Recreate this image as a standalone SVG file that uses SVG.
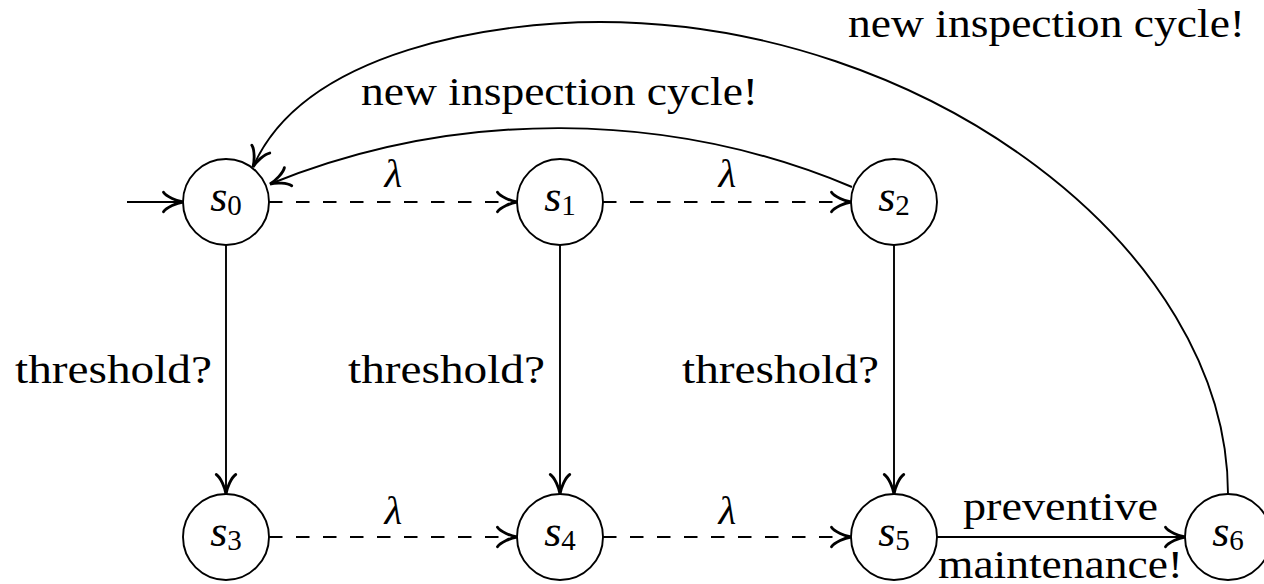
<svg xmlns="http://www.w3.org/2000/svg" width="1264" height="584" viewBox="0 0 1264 584">
<defs>
<marker id="arr" markerUnits="userSpaceOnUse" markerWidth="30" markerHeight="30" viewBox="-15 -10 17 20" refX="0" refY="0" orient="auto" overflow="visible">
<path d="M-13,-6.5 C-11,-3.5 -4,-0.6 0,0 C-4,0.6 -11,3.5 -13,6.5" fill="none" stroke="#000" stroke-width="1.9" stroke-linecap="round" stroke-dasharray="none"/>
</marker>
<style>
.node circle{fill:#fff;stroke:#000;stroke-width:1.9}
.lbl{font-family:"Liberation Serif","Times New Roman",serif;font-size:41px;fill:#000}
.nl{font-family:"Liberation Serif","Times New Roman",serif;font-size:44px;fill:#000}
.it{font-style:italic}
.sub{font-size:29px;font-style:normal}
.e{fill:none;stroke:#000;stroke-width:1.9;marker-end:url(#arr)}
.d{stroke-dasharray:13.5 13.5}
</style>
</defs>
<g id="connectors">
<path class="e" d="M127,202 H183"/>
<path class="e d" d="M269,202 H517"/>
<path class="e d" d="M603,202 H851"/>
<path class="e d" d="M269,537 H517"/>
<path class="e d" d="M603,537 H851"/>
<path class="e" d="M226,245 V494"/>
<path class="e" d="M560,245 V494"/>
<path class="e" d="M894,245 V494"/>
<path class="e" d="M937,537 H1185"/>
<path class="e" d="M852,187 C667,109 455,109 270,184"/>
<path class="e" d="M1228,494 C1228,248.6 926,22 600,22 C500,22 305,48 253,167"/>
<text class="lbl it" x="393.5" y="187" text-anchor="middle" font-size="42">λ</text>
<text class="lbl it" x="727.5" y="187" text-anchor="middle" font-size="42">λ</text>
<text class="lbl it" x="393.5" y="524" text-anchor="middle" font-size="42">λ</text>
<text class="lbl it" x="727.5" y="524" text-anchor="middle" font-size="42">λ</text>
<text class="lbl" x="15" y="383" textLength="197" lengthAdjust="spacingAndGlyphs">threshold?</text>
<text class="lbl" x="348" y="383" textLength="197" lengthAdjust="spacingAndGlyphs">threshold?</text>
<text class="lbl" x="682" y="383" textLength="197" lengthAdjust="spacingAndGlyphs">threshold?</text>
<text class="lbl" x="361" y="105" textLength="397" lengthAdjust="spacingAndGlyphs">new inspection cycle!</text>
<text class="lbl" x="848" y="37" textLength="397" lengthAdjust="spacingAndGlyphs">new inspection cycle!</text>
<text class="lbl" x="963" y="520" textLength="195" lengthAdjust="spacingAndGlyphs">preventive</text>
<text class="lbl" x="938" y="578" textLength="245" lengthAdjust="spacingAndGlyphs">maintenance!</text>
</g>
<g id="s0" class="node"><circle cx="226" cy="202" r="43"/><text class="nl" x="226" y="211" text-anchor="middle"><tspan class="it">s</tspan><tspan class="sub" dy="4">0</tspan></text></g>
<g id="s1" class="node"><circle cx="560" cy="202" r="43"/><text class="nl" x="560" y="211" text-anchor="middle"><tspan class="it">s</tspan><tspan class="sub" dy="4">1</tspan></text></g>
<g id="s2" class="node"><circle cx="894" cy="202" r="43"/><text class="nl" x="894" y="211" text-anchor="middle"><tspan class="it">s</tspan><tspan class="sub" dy="4">2</tspan></text></g>
<g id="s3" class="node"><circle cx="226" cy="537" r="43"/><text class="nl" x="226" y="546" text-anchor="middle"><tspan class="it">s</tspan><tspan class="sub" dy="4">3</tspan></text></g>
<g id="s4" class="node"><circle cx="560" cy="537" r="43"/><text class="nl" x="560" y="546" text-anchor="middle"><tspan class="it">s</tspan><tspan class="sub" dy="4">4</tspan></text></g>
<g id="s5" class="node"><circle cx="894" cy="537" r="43"/><text class="nl" x="894" y="546" text-anchor="middle"><tspan class="it">s</tspan><tspan class="sub" dy="4">5</tspan></text></g>
<g id="s6" class="node"><circle cx="1228" cy="537" r="43"/><text class="nl" x="1228" y="546" text-anchor="middle"><tspan class="it">s</tspan><tspan class="sub" dy="4">6</tspan></text></g>
</svg>
